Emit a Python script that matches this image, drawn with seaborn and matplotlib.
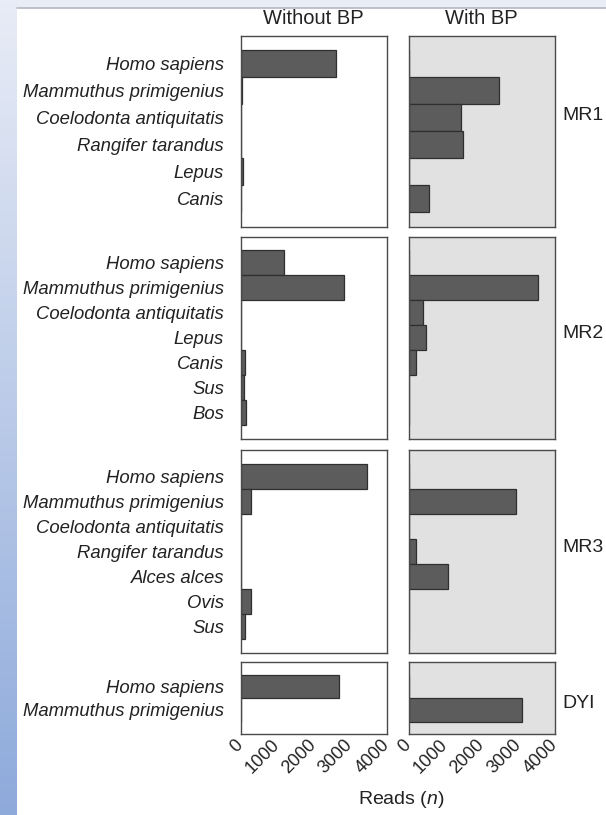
import numpy as np
import pandas as pd
import matplotlib
matplotlib.use("Agg")
import matplotlib.pyplot as plt
import seaborn as sns

# Read counts per taxon, for each sample, without and with blocking primer (BP)
mr1_taxa = ["Homo sapiens", "Mammuthus primigenius", "Coelodonta antiquitatis",
            "Rangifer tarandus", "Lepus", "Canis"]
mr1_without = [2620, 40, 0, 0, 50, 0]
mr1_with = [0, 2465, 1440, 1480, 0, 555]

mr2_taxa = ["Homo sapiens", "Mammuthus primigenius", "Coelodonta antiquitatis",
            "Lepus", "Canis", "Sus", "Bos"]
mr2_without = [1190, 2840, 0, 0, 120, 90, 145]
mr2_with = [0, 3545, 390, 475, 200, 0, 0]

mr3_taxa = ["Homo sapiens", "Mammuthus primigenius", "Coelodonta antiquitatis",
            "Rangifer tarandus", "Alces alces", "Ovis", "Sus"]
mr3_without = [3465, 285, 0, 0, 0, 295, 130]
mr3_with = [0, 2930, 0, 200, 1090, 0, 0]

dyi_taxa = ["Homo sapiens", "Mammuthus primigenius"]
dyi_without = [2700, 0]
dyi_with = [0, 3100]

samples = ["MR1", "MR2", "MR3", "DYI"]
treatments = ["Without BP", "With BP"]
x_ticks = [0, 1000, 2000, 3000, 4000]

panels = {
    "MR1": (mr1_taxa, mr1_without, mr1_with),
    "MR2": (mr2_taxa, mr2_without, mr2_with),
    "MR3": (mr3_taxa, mr3_without, mr3_with),
    "DYI": (dyi_taxa, dyi_without, dyi_with),
}

rows = []
for s in samples:
    taxa, wo, wi = panels[s]
    for t, a, b in zip(taxa, wo, wi):
        rows.append((s, "Without BP", t, a))
        rows.append((s, "With BP", t, b))
df = pd.DataFrame(rows, columns=["sample", "treatment", "taxon", "reads"])

sns.set_style("white")
plt.rcParams["font.family"] = ["Liberation Sans", "DejaVu Sans"]
plt.rcParams["mathtext.fontset"] = "custom"
plt.rcParams["mathtext.it"] = "Liberation Sans:italic"
plt.rcParams["mathtext.rm"] = "Liberation Sans"

W, H = 606, 815
fig = plt.figure(figsize=(W / 100, H / 100), dpi=100)
fig.patch.set_facecolor("white")


def rect(x0, y0, x1, y1):
    """Pixel box (top-left origin) to figure fraction [l, b, w, h]."""
    return [x0 / W, 1 - y1 / H, (x1 - x0) / W, (y1 - y0) / H]


# page frame: light top band, blue gradient band on the left
top = fig.add_axes(rect(0, 0, W, 8))
top.set_axis_off()
top.add_patch(plt.Rectangle((0, 0), 1, 1, color="#e9edf6", transform=top.transAxes))
side = fig.add_axes(rect(0, 0, 17, H))
side.set_axis_off()
c_top = np.array([232, 236, 246]) / 255
c_bot = np.array([142, 170, 219]) / 255
grad = np.linspace(0, 1, 256)[:, None, None]
side.imshow(c_top + (c_bot - c_top) * grad, aspect="auto", extent=(0, 1, 1, 0))
fig.add_artist(plt.Line2D([17 / W, 1], [1 - 8 / H, 1 - 8 / H], color="#b4b8c0", lw=1.2))

col_x = {"Without BP": (240.7, 386.7), "With BP": (408.5, 555.0)}
row_y = {"MR1": (35.7, 226.7), "MR2": (236.7, 439.0),
         "MR3": (450.0, 653.0), "DYI": (662.3, 734.3)}
label_y = {"MR1": 116, "MR2": 333, "MR3": 547, "DYI": 704}
pad = 1.05

for s in samples:
    taxa = panels[s][0]
    for tr in treatments:
        x0, x1 = col_x[tr]
        y0, y1 = row_y[s]
        ax = fig.add_axes(rect(x0, y0, x1, y1))
        sub = df[(df["sample"] == s) & (df["treatment"] == tr)]
        sns.barplot(data=sub, x="reads", y="taxon", order=taxa, orient="h",
                    color="#5c5c5c", saturation=1, edgecolor="#2f2f2f",
                    linewidth=0.9, width=1.0, ax=ax, errorbar=None)
        ax.set_facecolor("#e1e1e1" if tr == "With BP" else "white")
        ax.set_xlim(0, 4000)
        ax.set_ylim(len(taxa) - 1 + pad, -pad)
        ax.set_xticks(x_ticks)
        ax.set_xlabel("")
        ax.set_ylabel("")
        for sp in ax.spines.values():
            sp.set_visible(True)
            sp.set_color("#4a4a4a")
            sp.set_linewidth(1.0)
        ax.tick_params(axis="x", direction="in", length=4.5, width=0.9,
                       color="#444444", labelsize=13, pad=6,
                       labelbottom=(s == "DYI"))
        ax.tick_params(axis="y", length=0, pad=12, labelsize=13.3,
                       labelleft=(tr == "Without BP"))
        if s == "DYI":
            for lab in ax.get_xticklabels():
                lab.set_rotation(45)
                lab.set_ha("right")
                lab.set_va("center")
                lab.set_rotation_mode("anchor")
                lab.set_color("#222222")
        if tr == "Without BP":
            for lab in ax.get_yticklabels():
                lab.set_fontstyle("italic")
                lab.set_color("#222222")
    fig.text(562 / W, 1 - label_y[s] / H, s, ha="left", va="center",
             fontsize=14, color="#222222")

for tr in treatments:
    x0, x1 = col_x[tr]
    fig.text((x0 + x1) / 2 / W, 1 - 18 / H, tr, ha="center", va="center",
             fontsize=14.5, color="#222222")

fig.text(401 / W, 1 - 800 / H, r"Reads ($\mathit{n}$)", ha="center", va="center",
         fontsize=14, color="#222222")

fig.savefig("out.png", dpi=100, facecolor=fig.get_facecolor())
